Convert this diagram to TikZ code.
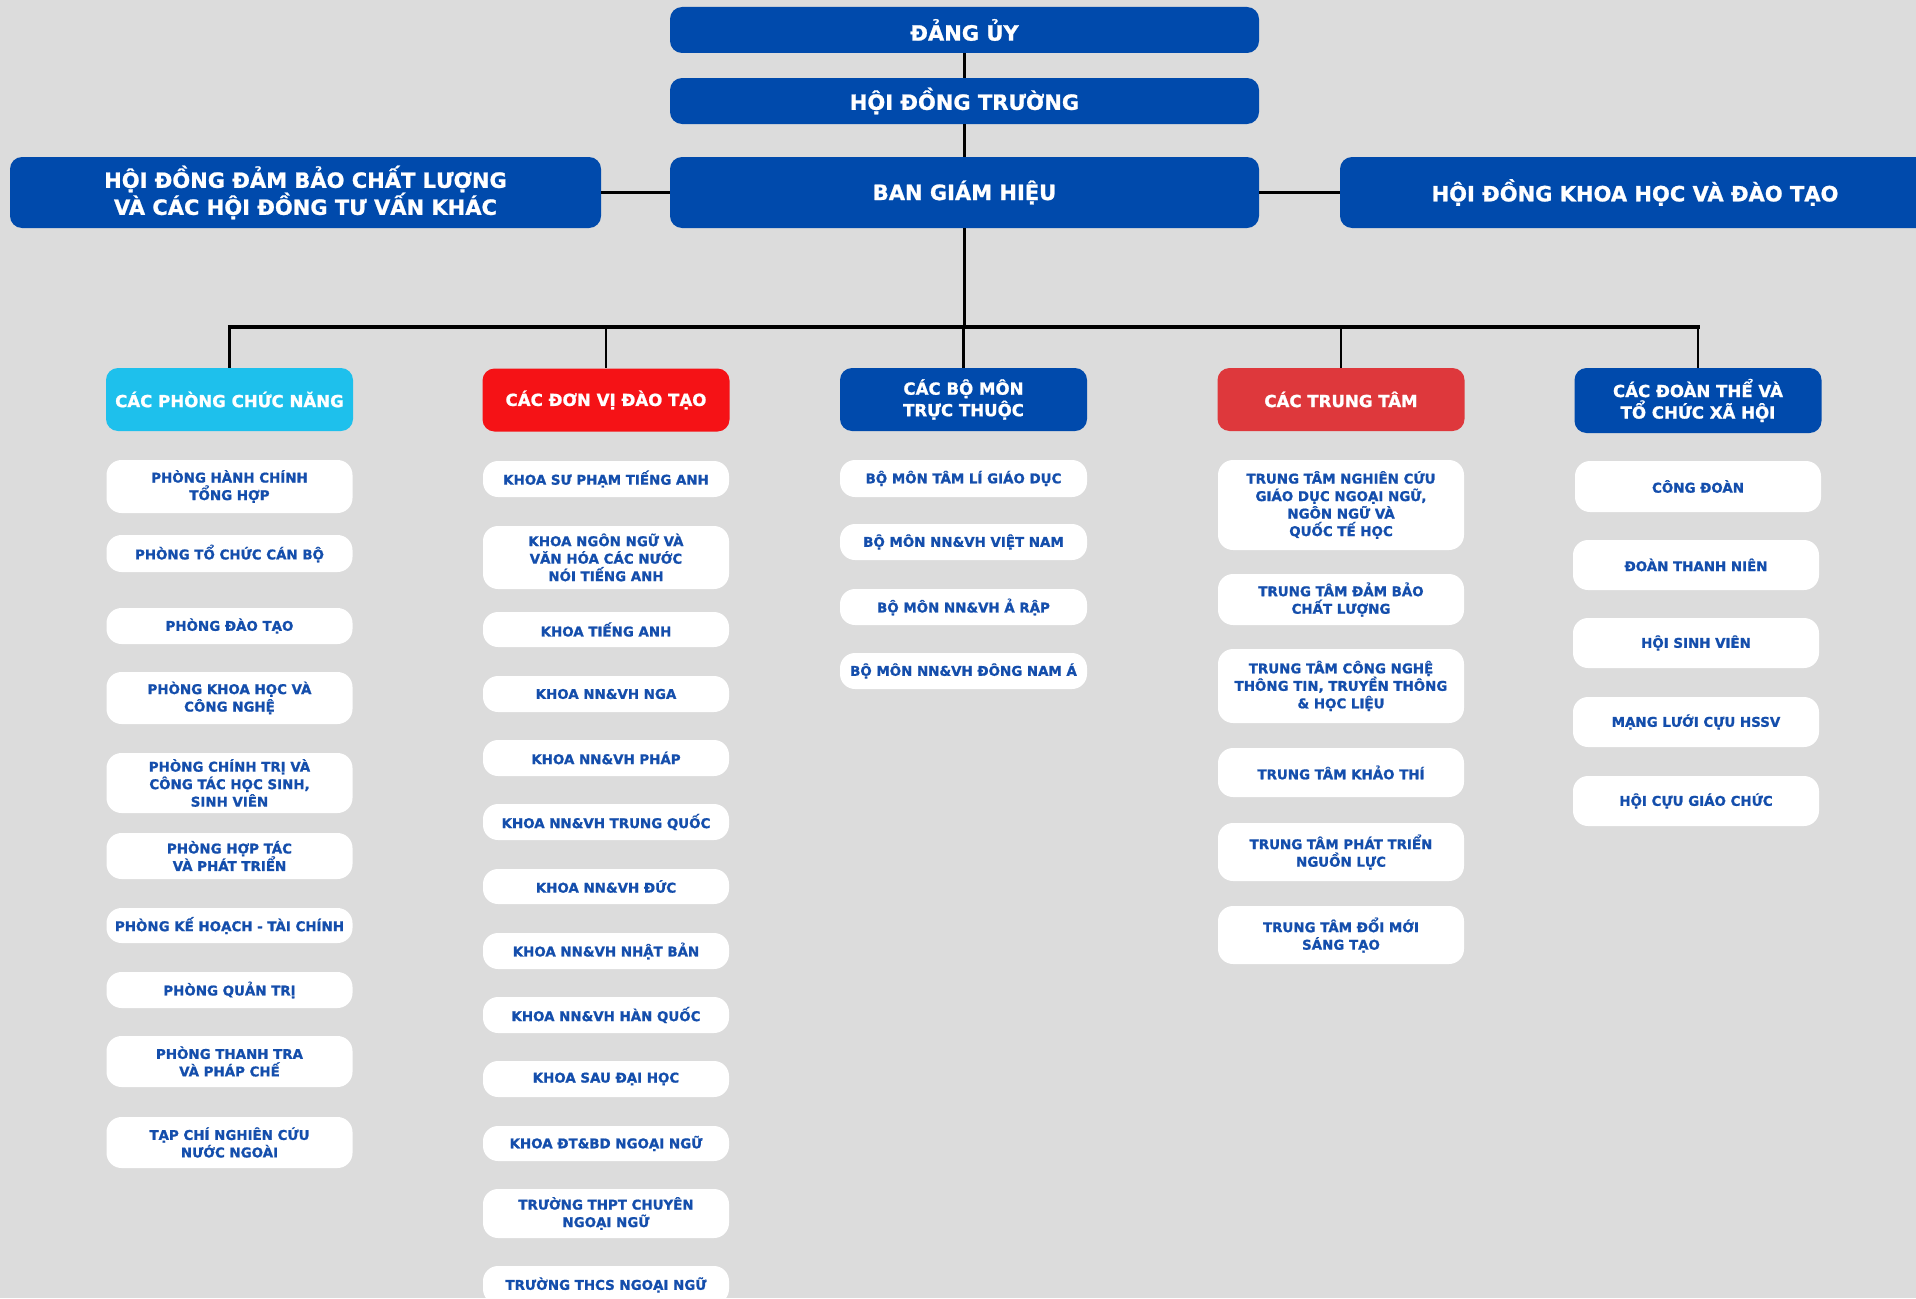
\documentclass[tikz,border=0pt]{standalone}
\usepackage{fontspec}
\setmainfont{DejaVu Sans}[BoldFeatures={FakeBold=1.1}]
\definecolor{bg}{RGB}{220,220,220}
\definecolor{dkblue}{RGB}{0,74,172}
\definecolor{cyanh}{RGB}{30,192,236}
\definecolor{redh}{RGB}{245,18,22}
\definecolor{redc}{RGB}{222,56,60}
\definecolor{itemblue}{RGB}{20,78,172}
\newcommand{\toptext}{\bfseries\fontsize{21}{27}\selectfont}
\newcommand{\hdrtext}{\bfseries\fontsize{16.6}{21.5}\selectfont}
\newcommand{\itemtext}{\bfseries\fontsize{13.4}{17.5}\selectfont}
\tikzset{
  topbox/.style={rectangle, rounded corners=12pt, fill=dkblue, text=white, font=\toptext, align=center, inner sep=0pt},
  hdr/.style={rectangle, rounded corners=12pt, text=white, font=\hdrtext, align=center, inner sep=0pt, minimum width=247pt, minimum height=63pt},
  item/.style={rectangle, rounded corners=15pt, fill=white, text=itemblue, font=\itemtext, align=center, inner sep=0pt, minimum width=246pt},
  conn/.style={black, line width=2.5pt},
  thick conn/.style={black, line width=3.5pt}
}
\begin{document}
\begin{tikzpicture}[x=1pt,y=-1pt]
\clip (0,0) rectangle (1916,1298);
\fill[bg] (0,0) rectangle (1916,1298);
% top
\node[topbox, minimum width=589pt, minimum height=46pt] (dang) at (964.5,30) {ĐẢNG ỦY};
\node[topbox, minimum width=589pt, minimum height=46pt] (hdt) at (964.5,101) {HỘI ĐỒNG TRƯỜNG};
\node[topbox, minimum width=589pt, minimum height=71pt] (ban) at (964.5,192.5) {BAN GIÁM HIỆU};
\node[topbox, minimum width=591pt, minimum height=71pt] (left) at (305.5,192.5) {HỘI ĐỒNG ĐẢM BẢO CHẤT LƯỢNG\\VÀ CÁC HỘI ĐỒNG TƯ VẤN KHÁC};
\node[topbox, minimum width=590pt, minimum height=71pt] (right) at (1635,192.5) {HỘI ĐỒNG KHOA HỌC VÀ ĐÀO TẠO};
% headers
\node[hdr, fill=cyanh] (h1) at (229.5,399.5) {CÁC PHÒNG CHỨC NĂNG};
\node[hdr, fill=redh] (h2) at (606,400) {CÁC ĐƠN VỊ ĐÀO TẠO};
\node[hdr, fill=dkblue] (h3) at (963.5,399.5) {CÁC BỘ MÔN\\TRỰC THUỘC};
\node[hdr, fill=redc] (h4) at (1341,399.5) {CÁC TRUNG TÂM};
\node[hdr, fill=dkblue, minimum height=65pt] (h5) at (1698,400.5) {CÁC ĐOÀN THỂ VÀ\\TỔ CHỨC XÃ HỘI};
% connectors
\coordinate (bus) at (0,327);
\draw[conn] (dang.south) -- (hdt.north);
\draw[conn] (hdt.south) -- (ban.north);
\draw[thick conn] (left.east) -- (ban.west);
\draw[thick conn] (ban.east) -- (right.west);
\draw[conn] (ban.south) -- (ban.south |- bus);
\draw[thick conn] ([xshift=-1.75pt]h1.north |- bus) -- ([xshift=1.75pt]h5.north |- bus);
\draw[conn] (h1.north |- bus) -- (h1.north);
\draw[conn] (h2.north |- bus) -- (h2.north);
\draw[conn] (h3.north |- bus) -- (h3.north);
\draw[conn] (h4.north |- bus) -- (h4.north);
\draw[conn] (h5.north |- bus) -- (h5.north);
% column 1
\node[item, minimum height=53pt] (c1a) at (229.5,486.5) {PHÒNG HÀNH CHÍNH\\TỔNG HỢP};
\node[item, minimum height=37pt] (c1b) at (229.5,553.5) {PHÒNG TỔ CHỨC CÁN BỘ};
\node[item, minimum height=36pt] (c1c) at (229.5,626) {PHÒNG ĐÀO TẠO};
\node[item, minimum height=52pt] (c1d) at (229.5,698) {PHÒNG KHOA HỌC VÀ\\CÔNG NGHỆ};
\node[item, minimum height=60pt] (c1e) at (229.5,783) {PHÒNG CHÍNH TRỊ VÀ\\CÔNG TÁC HỌC SINH,\\SINH VIÊN};
\node[item, minimum height=46pt] (c1f) at (229.5,856) {PHÒNG HỢP TÁC\\VÀ PHÁT TRIỂN};
\node[item, minimum height=35pt] (c1g) at (229.5,925.5) {PHÒNG KẾ HOẠCH - TÀI CHÍNH};
\node[item, minimum height=36pt] (c1h) at (229.5,990) {PHÒNG QUẢN TRỊ};
\node[item, minimum height=51pt] (c1i) at (229.5,1061.5) {PHÒNG THANH TRA\\VÀ PHÁP CHẾ};
\node[item, minimum height=51pt] (c1j) at (229.5,1142.5) {TẠP CHÍ NGHIÊN CỨU\\NƯỚC NGOÀI};
% column 2
\node[item, minimum height=36pt] (c2a) at (606,479) {KHOA SƯ PHẠM TIẾNG ANH};
\node[item, minimum height=63pt] (c2b) at (606,557.5) {KHOA NGÔN NGỮ VÀ\\VĂN HÓA CÁC NƯỚC\\NÓI TIẾNG ANH};
\node[item, minimum height=35pt] (c2c) at (606,629.5) {KHOA TIẾNG ANH};
\node[item, minimum height=36pt] (c2d) at (606,694) {KHOA NN\&VH NGA};
\node[item, minimum height=36pt] (c2e) at (606,758) {KHOA NN\&VH PHÁP};
\node[item, minimum height=36pt] (c2f) at (606,822) {KHOA NN\&VH TRUNG QUỐC};
\node[item, minimum height=35pt] (c2g) at (606,886.5) {KHOA NN\&VH ĐỨC};
\node[item, minimum height=36pt] (c2h) at (606,951) {KHOA NN\&VH NHẬT BẢN};
\node[item, minimum height=36pt] (c2i) at (606,1015) {KHOA NN\&VH HÀN QUỐC};
\node[item, minimum height=36pt] (c2j) at (606,1079) {KHOA SAU ĐẠI HỌC};
\node[item, minimum height=35pt] (c2k) at (606,1143.5) {KHOA ĐT\&BD NGOẠI NGỮ};
\node[item, minimum height=49pt] (c2l) at (606,1213.5) {TRƯỜNG THPT CHUYÊN\\NGOẠI NGỮ};
\node[item, minimum height=38pt] (c2m) at (606,1285) {TRƯỜNG THCS NGOẠI NGỮ};
% column 3
\node[item, minimum height=37pt, minimum width=247pt] (c3a) at (963.5,478.5) {BỘ MÔN TÂM LÍ GIÁO DỤC};
\node[item, minimum height=36pt, minimum width=247pt] (c3b) at (963.5,542) {BỘ MÔN NN\&VH VIỆT NAM};
\node[item, minimum height=36pt, minimum width=247pt] (c3c) at (963.5,607) {BỘ MÔN NN\&VH Ả RẬP};
\node[item, minimum height=36pt, minimum width=247pt] (c3d) at (963.5,671) {BỘ MÔN NN\&VH ĐÔNG NAM Á};
% column 4
\node[item, minimum height=90pt] (c4a) at (1341,505) {TRUNG TÂM NGHIÊN CỨU\\GIÁO DỤC NGOẠI NGỮ,\\NGÔN NGỮ VÀ\\QUỐC TẾ HỌC};
\node[item, minimum height=51pt] (c4b) at (1341,599.5) {TRUNG TÂM ĐẢM BẢO\\CHẤT LƯỢNG};
\node[item, minimum height=74pt] (c4c) at (1341,686) {TRUNG TÂM CÔNG NGHỆ\\THÔNG TIN, TRUYỀN THÔNG\\\& HỌC LIỆU};
\node[item, minimum height=49pt] (c4d) at (1341,772.5) {TRUNG TÂM KHẢO THÍ};
\node[item, minimum height=58pt] (c4e) at (1341,852) {TRUNG TÂM PHÁT TRIỂN\\NGUỒN LỰC};
\node[item, minimum height=58pt] (c4f) at (1341,935) {TRUNG TÂM ĐỔI MỚI\\SÁNG TẠO};
% column 5
\node[item, minimum height=51pt] (c5a) at (1698,486.5) {CÔNG ĐOÀN};
\node[item, minimum height=50pt] (c5b) at (1696,565) {ĐOÀN THANH NIÊN};
\node[item, minimum height=50pt] (c5c) at (1696,643) {HỘI SINH VIÊN};
\node[item, minimum height=50pt] (c5d) at (1696,722) {MẠNG LƯỚI CỰU HSSV};
\node[item, minimum height=50pt] (c5e) at (1696,801) {HỘI CỰU GIÁO CHỨC};
\end{tikzpicture}
\end{document}
